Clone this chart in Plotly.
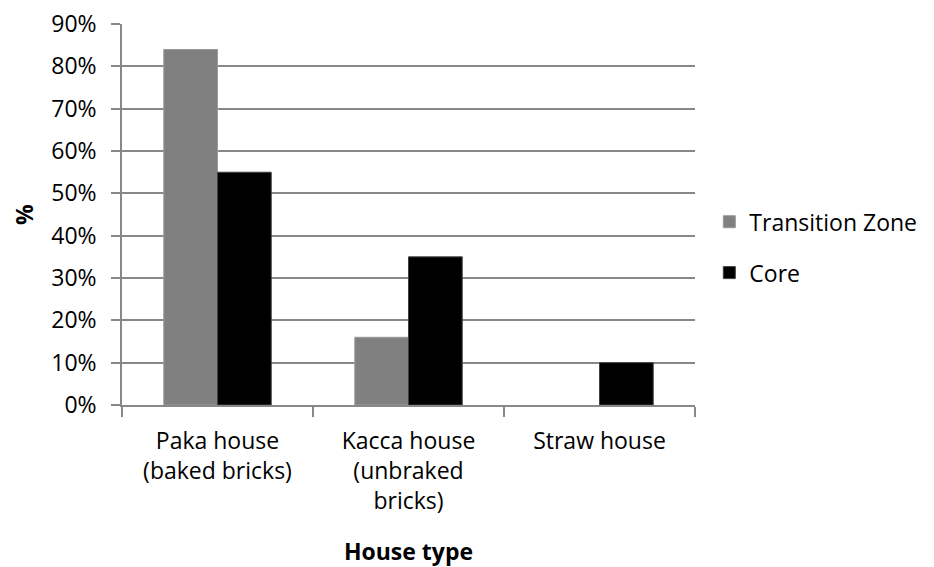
import plotly.graph_objects as go

categories = ["Paka house<br>(baked bricks)", "Kacca house<br>(unbraked<br>bricks)", "Straw house"]
transition_zone = [84, 16, 0]
core = [55, 35, 10]
y_ticks = [0, 10, 20, 30, 40, 50, 60, 70, 80, 90]
y_tick_labels = [f"{v}%" for v in y_ticks]

FONT = "Open Sans, Noto Sans, sans-serif"

fig = go.Figure()
fig.add_trace(go.Bar(name="Transition Zone", x=categories, y=transition_zone,
                     marker=dict(color="#808080",
                                 line=dict(color="#9a9a9a", width=[1 if v > 0 else 0 for v in transition_zone])),
                     legendgroup="a"))
fig.add_trace(go.Bar(name="Core", x=categories, y=core,
                     marker=dict(color="#000000", line=dict(color="#404040", width=1)),
                     legendgroup="b"))

fig.update_layout(
    width=926, height=559,
    margin=dict(l=114, r=232, t=16, b=162),
    paper_bgcolor="white", plot_bgcolor="white",
    barmode="group", bargap=0.4375, bargroupgap=0,
    font=dict(family=FONT, size=23, color="#000000"),
    legend=dict(x=1.025, y=0.414, xanchor="left", yanchor="middle",
                font=dict(size=23), tracegroupgap=18, itemwidth=30,
                bgcolor="rgba(0,0,0,0)"),
    xaxis=dict(automargin=False, showline=True, linecolor="#888888", linewidth=1.5,
               ticks="outside", tickson="boundaries", ticklen=10, tickcolor="#888888", tickwidth=1.5,
               ticklabelstandoff=15,
               tickfont=dict(size=23), showgrid=False,
               title=dict(text="<b>House type</b>", font=dict(size=23), standoff=31)),
    yaxis=dict(automargin=False, range=[0, 90.02], tickvals=y_ticks, ticktext=y_tick_labels,
               showline=True, linecolor="#888888", linewidth=1.5,
               ticks="outside", ticklen=9, tickcolor="#888888", tickwidth=1.5,
               ticklabelstandoff=10, ticklabeloverflow="allow",
               showgrid=True, gridcolor="#888888", gridwidth=1.5, zeroline=False,
               tickfont=dict(size=23),
               title=dict(text="<b>%</b>", font=dict(size=23), standoff=16)),
)

fig.write_html("out.html")
